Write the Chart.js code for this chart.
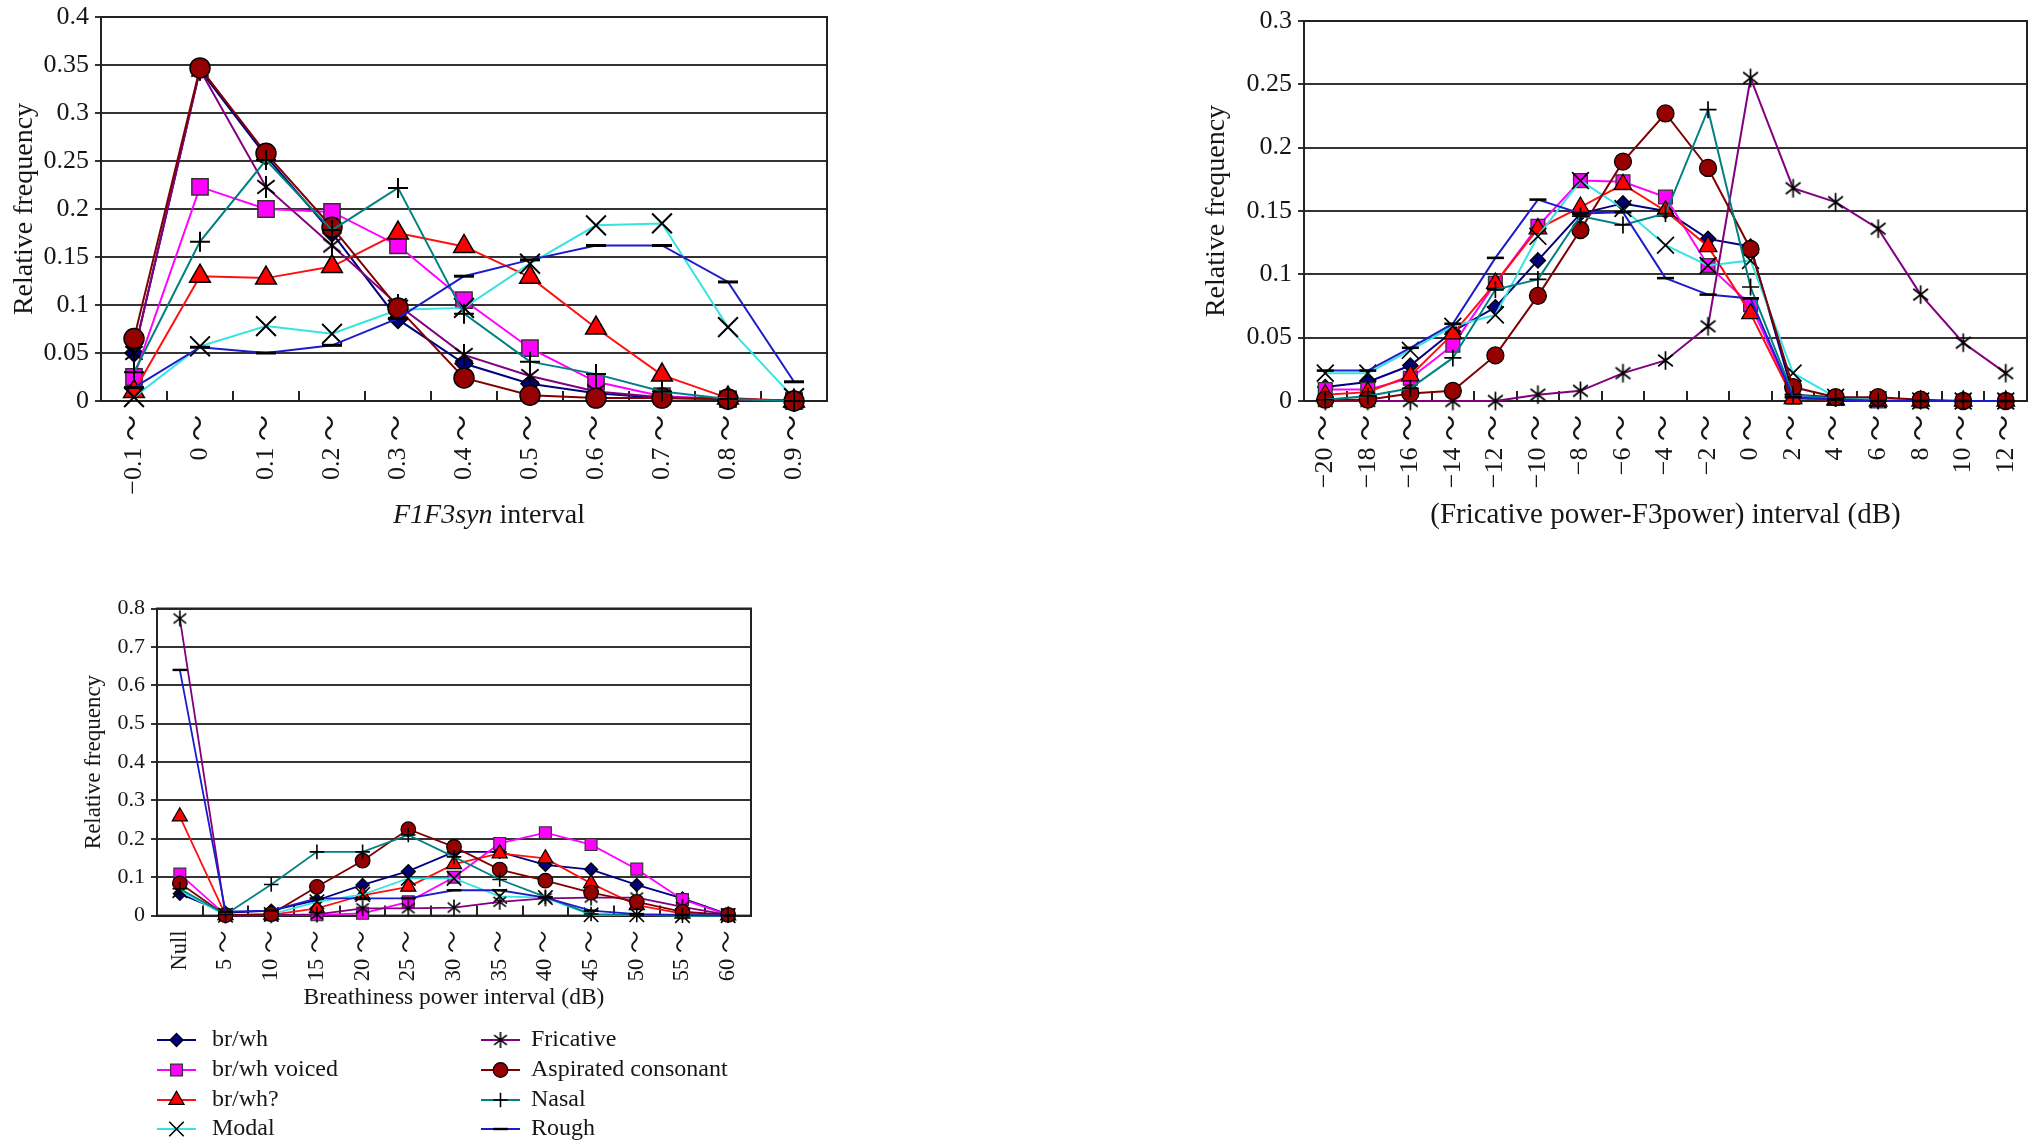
<!DOCTYPE html>
<html>
<head>
<meta charset="utf-8">
<title>Relative frequency by interval</title>
<script src="https://cdn.jsdelivr.net/npm/chart.js@4.4.1/dist/chart.umd.min.js"></script>
<style>
  html, body { margin: 0; background: #fff; }
  body { width: 2040px; height: 1148px; position: relative; overflow: hidden; }
  canvas { position: absolute; }
</style>
</head>
<body>
<canvas id="c-syn"></canvas>
<canvas id="c-fric"></canvas>
<canvas id="c-breath"></canvas>
<script>
// series names, shared by the three panels
const SERIES = ['br/wh', 'br/wh voiced', 'br/wh?', 'Modal', 'Fricative', 'Aspirated consonant', 'Nasal', 'Rough'];

// --- panel 1: F1F3syn interval
const SYN_LABELS = ['\u22120.1 \u301c', '0 \u301c', '0.1 \u301c', '0.2 \u301c', '0.3 \u301c', '0.4 \u301c', '0.5 \u301c',
                    '0.6 \u301c', '0.7 \u301c', '0.8 \u301c', '0.9 \u301c'];
const SYN_Y_TICKS = ['0', '0.05', '0.1', '0.15', '0.2', '0.25', '0.3', '0.35', '0.4'];
const SYN_BRWH    = [0.050, 0.345, 0.255, 0.175, 0.085, 0.039, 0.018, 0.008, 0.003, 0.002, 0];
const SYN_BRWH_V  = [0.025, 0.223, 0.200, 0.197, 0.162, 0.105, 0.055, 0.020, 0.005, 0.002, 0];
const SYN_BRWH_Q  = [0.010, 0.130, 0.128, 0.140, 0.175, 0.161, 0.129, 0.076, 0.027, 0.003, 0];
const SYN_MODAL   = [0.004, 0.057, 0.078, 0.070, 0.095, 0.097, 0.143, 0.183, 0.185, 0.077, 0.003];
const SYN_FRIC    = [0.050, 0.345, 0.223, 0.162, 0.100, 0.048, 0.026, 0.010, 0.004, 0.002, 0];
const SYN_ASP     = [0.065, 0.347, 0.258, 0.181, 0.097, 0.024, 0.006, 0.003, 0.003, 0.002, 0];
const SYN_NASAL   = [0.030, 0.166, 0.251, 0.178, 0.222, 0.091, 0.041, 0.028, 0.010, 0.002, 0];
const SYN_ROUGH   = [0.014, 0.056, 0.050, 0.058, 0.086, 0.130, 0.147, 0.162, 0.162, 0.124, 0.020];

// --- panel 2: (Fricative power - F3power) interval (dB)
const FP_LABELS = ['\u221220 \u301c', '\u221218 \u301c', '\u221216 \u301c', '\u221214 \u301c', '\u221212 \u301c', '\u221210 \u301c',
                   '\u22128 \u301c', '\u22126 \u301c', '\u22124 \u301c', '\u22122 \u301c', '0 \u301c', '2 \u301c', '4 \u301c',
                   '6 \u301c', '8 \u301c', '10 \u301c', '12 \u301c'];
const FP_Y_TICKS = ['0', '0.05', '0.1', '0.15', '0.2', '0.25', '0.3'];
const FP_BRWH    = [0.011, 0.015, 0.028, 0.055, 0.074, 0.111, 0.148, 0.156, 0.150, 0.128, 0.122, 0.005, 0.003, 0.001, 0, 0, 0];
const FP_BRWH_V  = [0.009, 0.009, 0.018, 0.044, 0.093, 0.138, 0.174, 0.173, 0.161, 0.107, 0.076, 0.003, 0.002, 0, 0, 0, 0];
const FP_BRWH_Q  = [0.005, 0.007, 0.020, 0.053, 0.093, 0.136, 0.153, 0.171, 0.150, 0.122, 0.069, 0.002, 0.001, 0, 0, 0, 0];
const FP_MODAL   = [0.022, 0.022, 0.040, 0.059, 0.068, 0.130, 0.174, 0.152, 0.123, 0.107, 0.111, 0.022, 0.003, 0.001, 0, 0, 0];
const FP_FRIC    = [0, 0, 0, 0, 0, 0.005, 0.008, 0.022, 0.032, 0.059, 0.255, 0.168, 0.157, 0.136, 0.084, 0.046, 0.022];
const FP_ASP     = [0.001, 0.001, 0.006, 0.008, 0.036, 0.083, 0.135, 0.189, 0.227, 0.184, 0.120, 0.011, 0.003, 0.003, 0.001, 0, 0];
const FP_NASAL   = [0.001, 0.004, 0.010, 0.034, 0.088, 0.096, 0.146, 0.139, 0.148, 0.230, 0.090, 0.005, 0.002, 0, 0, 0, 0];
const FP_ROUGH   = [0.024, 0.024, 0.042, 0.061, 0.113, 0.159, 0.148, 0.149, 0.097, 0.084, 0.081, 0.003, 0.001, 0, 0, 0, 0];

// --- panel 3: Breathiness power interval (dB)
const BP_LABELS = ['Null', '5 \u301c', '10 \u301c', '15 \u301c', '20 \u301c', '25 \u301c', '30 \u301c', '35 \u301c', '40 \u301c',
                   '45 \u301c', '50 \u301c', '55 \u301c', '60 \u301c'];
const BP_Y_TICKS = ['0', '0.1', '0.2', '0.3', '0.4', '0.5', '0.6', '0.7', '0.8'];
const BP_BRWH    = [0.057, 0.007, 0.013, 0.040, 0.080, 0.116, 0.166, 0.166, 0.132, 0.120, 0.080, 0.045, 0.003];
const BP_BRWH_V  = [0.108, 0.002, 0.002, 0.002, 0.006, 0.036, 0.100, 0.188, 0.216, 0.185, 0.121, 0.042, 0.002];
const BP_BRWH_Q  = [0.258, 0.001, 0.002, 0.019, 0.053, 0.075, 0.134, 0.162, 0.149, 0.084, 0.027, 0.005, 0];
const BP_MODAL   = [0.065, 0.001, 0.003, 0.036, 0.055, 0.097, 0.097, 0.050, 0.047, 0.002, 0.002, 0, 0];
const BP_FRIC    = [0.774, 0, 0.001, 0.003, 0.019, 0.019, 0.021, 0.036, 0.045, 0.047, 0.047, 0.023, 0.002];
const BP_ASP     = [0.084, 0.001, 0.004, 0.075, 0.143, 0.225, 0.179, 0.120, 0.091, 0.060, 0.036, 0.010, 0.002];
const BP_NASAL   = [0.070, 0.003, 0.081, 0.166, 0.166, 0.210, 0.153, 0.094, 0.049, 0.004, 0.002, 0, 0];
const BP_ROUGH   = [0.640, 0.010, 0.013, 0.045, 0.045, 0.045, 0.066, 0.066, 0.047, 0.013, 0.004, 0.002, 0];

const FONT = "'Liberation Serif', 'Times New Roman', 'Noto Sans CJK JP', serif";
const INK = '#161616';

// marker look per series (sizes are for the first panel, scaled by k)
const STYLES = [
  { line: '#000080', fill: '#00007a', edge: '#000', shape: 'rectRot',  r: 9,    bw: 1.5 },
  { line: '#ff00ff', fill: '#ff00ff', edge: '#333', shape: 'rect',     r: 11.5, bw: 1.5 },
  { line: '#ff1010', fill: '#ff0000', edge: '#000', shape: 'triangle', r: 12,   bw: 1.5 },
  { line: '#35e3e3', fill: 'rgba(0,0,0,0)', edge: '#000', shape: 'crossRot', r: 14, bw: 2 },
  { line: '#800080', fill: 'rgba(0,0,0,0)', edge: '#000', shape: 'asterisk', r: 11, bw: 2 },
  { line: '#800000', fill: '#950000', edge: '#000', shape: 'circle',   r: 10,   bw: 1.5 },
  { line: '#008080', fill: 'rgba(0,0,0,0)', edge: '#000', shape: 'cross', r: 10, bw: 2 },
  { line: '#1c1ccc', fill: 'rgba(0,0,0,0)', edge: '#000', shape: 'line',  r: 10, bw: 3 },
];

// six-armed asterisk used by "Fricative"
function asterisk(r, lw) {
  const c = document.createElement('canvas');
  const s = Math.ceil(2 * r + lw + 2);
  c.width = c.height = s;
  const g = c.getContext('2d');
  const m = s / 2;
  g.strokeStyle = '#000';
  g.lineWidth = lw;
  g.beginPath();
  [90, 38, 142].forEach(a => {
    const dx = Math.cos(a * Math.PI / 180) * r, dy = Math.sin(a * Math.PI / 180) * r;
    g.moveTo(m - dx, m - dy);
    g.lineTo(m + dx, m + dy);
  });
  g.stroke();
  return c;
}

function makeDatasets(series, k, lineW) {
  return series.map((data, i) => {
    const st = STYLES[i];
    const shape = st.shape === 'asterisk' ? asterisk(st.r * k, st.bw * Math.max(k, 0.8)) : st.shape;
    return {
      label: SERIES[i],
      data,
      order: series.length - i,          // later series drawn on top, like the original
      borderColor: st.line,
      borderWidth: lineW,
      pointStyle: shape,
      pointRadius: st.r * k,
      pointBackgroundColor: st.fill,
      pointBorderColor: st.edge,
      pointBorderWidth: st.bw * Math.max(k, 0.8),
      tension: 0,
      fill: false,
      clip: false,
    };
  });
}

// black frame around the plot area
const framePlugin = {
  id: 'frame',
  beforeDatasetsDraw(chart) {
    const { ctx, chartArea: a } = chart;
    ctx.save();
    ctx.strokeStyle = '#222';
    ctx.lineWidth = 2;
    ctx.strokeRect(a.left, a.top, a.right - a.left, a.bottom - a.top);
    ctx.restore();
  },
};

// x title with an italic part (panel 1)
const mixedTitle = {
  id: 'mixedTitle',
  afterDraw(chart, args, o) {
    if (!o || !o.parts) return;
    const ctx = chart.ctx;
    ctx.save();
    const fonts = o.parts.map(p => (p.italic ? 'italic ' : '') + o.size + 'px ' + FONT);
    const widths = o.parts.map((p, i) => { ctx.font = fonts[i]; return ctx.measureText(p.text).width; });
    let x = o.cx - widths.reduce((a, b) => a + b, 0) / 2;
    ctx.fillStyle = INK;
    ctx.textBaseline = 'middle';
    ctx.textAlign = 'left';
    o.parts.forEach((p, i) => { ctx.font = fonts[i]; ctx.fillText(p.text, x, o.y); x += widths[i]; });
    ctx.restore();
  },
};

function drawMarker(ctx, ds, x, y) {
  const h = Chart.helpers;
  if (h && h.drawPoint) {
    h.drawPoint(ctx, { pointStyle: ds.pointStyle, radius: ds.pointRadius, rotation: 0, borderWidth: ds.pointBorderWidth }, x, y);
  } else {
    ctx.beginPath();
    ctx.arc(x, y, ds.pointRadius, 0, Math.PI * 2);
    ctx.fill();
    ctx.stroke();
  }
}

// two-column legend under panel 3 (four rows each)
const twoColLegend = {
  id: 'twoColLegend',
  afterDraw(chart, args, o) {
    if (!o || !o.rows) return;
    const ctx = chart.ctx;
    chart.data.datasets.forEach((ds, i) => {
      const col = o.cols[Math.floor(i / 4)];
      const y = o.rows[i % 4] - o.oy;
      const x0 = col[0] - o.ox, x1 = col[1] - o.ox, tx = col[2] - o.ox;
      ctx.save();
      ctx.strokeStyle = ds.borderColor;
      ctx.lineWidth = ds.borderWidth;
      ctx.beginPath();
      ctx.moveTo(x0, y);
      ctx.lineTo(x1, y);
      ctx.stroke();
      ctx.fillStyle = ds.pointBackgroundColor;
      ctx.strokeStyle = ds.pointBorderColor;
      ctx.lineWidth = ds.pointBorderWidth;
      drawMarker(ctx, ds, (x0 + x1) / 2, y);
      ctx.fillStyle = INK;
      ctx.font = o.size + 'px ' + FONT;
      ctx.textBaseline = 'middle';
      ctx.textAlign = 'left';
      ctx.fillText(ds.label, tx, y);
      ctx.restore();
    });
  },
};

function buildChart(cfg) {
  const cv = document.getElementById(cfg.id);
  const [cx, cy, cw, ch] = cfg.box;
  const [pl, pt, pr, pb] = cfg.plot;
  cv.width = cw;
  cv.height = ch;
  cv.style.left = cx + 'px';
  cv.style.top = cy + 'px';
  const titleLH = cfg.titleSize * 1.2;
  const padBottom = cfg.padBottom || 0;

  return new Chart(cv, {
    type: 'line',
    data: { labels: cfg.labels, datasets: makeDatasets(cfg.series, cfg.k, cfg.lineW) },
    options: {
      responsive: false,
      animation: false,
      devicePixelRatio: 1,
      events: [],
      layout: { autoPadding: false, padding: { left: 0, top: pt - cy, right: cx + cw - pr, bottom: padBottom } },
      plugins: {
        legend: { display: false },
        tooltip: { enabled: false },
        mixedTitle: cfg.mixedTitle || {},
        twoColLegend: cfg.legend || {},
      },
      scales: {
        x: {
          offset: true,
          grid: { offset: true, drawOnChartArea: false, tickLength: -10, color: '#222', lineWidth: 2 },
          border: { display: true, color: '#222', width: 2 },
          ticks: {
            autoSkip: false, minRotation: 90, maxRotation: 90, padding: cfg.xPad, color: INK,
            font: { family: FONT, size: cfg.xTickSize || cfg.tickSize },
          },
          title: {
            display: !!cfg.xTitle,
            text: cfg.xTitle || '',
            color: INK,
            font: { family: FONT, size: cfg.xTitleSize || cfg.titleSize, lineHeight: 1.2 },
            padding: { top: 0, bottom: cy + ch - padBottom - cfg.xTitleY - (cfg.xTitleSize || cfg.titleSize) * 0.6 },
          },
          afterFit: s => { s.height = cy + ch - padBottom - pb; s.paddingLeft = 0; s.paddingRight = 0; },
        },
        y: {
          min: 0,
          max: cfg.yMax,
          ticks: {
            stepSize: cfg.yStep, padding: 6, color: INK,
            font: { family: FONT, size: cfg.tickSize },
            callback: (v, i) => cfg.yTicks[i],
          },
          grid: { color: '#333', lineWidth: 2, tickLength: 6 },
          border: { display: true, color: '#222', width: 2 },
          title: {
            display: true,
            text: 'Relative frequency',
            color: INK,
            font: { family: FONT, size: cfg.titleSize, lineHeight: 1.2 },
            padding: { top: cfg.yTitleX - cx - titleLH / 2, bottom: 0 },
          },
          afterFit: s => { s.width = pl - cx; s.paddingTop = 0; s.paddingBottom = 0; },
        },
      },
    },
    plugins: [framePlugin, mixedTitle, twoColLegend],
  });
}

buildChart({
  id: 'c-syn',
  box: [0, 0, 860, 560],
  plot: [101, 17, 827, 401],
  labels: SYN_LABELS,
  series: [SYN_BRWH, SYN_BRWH_V, SYN_BRWH_Q, SYN_MODAL, SYN_FRIC, SYN_ASP, SYN_NASAL, SYN_ROUGH],
  yMax: 0.4, yStep: 0.05, yTicks: SYN_Y_TICKS,
  tickSize: 26, titleSize: 28, xPad: 24, k: 1, lineW: 2,
  yTitleX: 25,
  mixedTitle: { parts: [{ text: 'F1F3syn', italic: true }, { text: ' interval', italic: false }], size: 28, cx: 489, y: 516 },
});

buildChart({
  id: 'c-fric',
  box: [1190, 0, 850, 540],
  plot: [1304, 21, 2027, 401],
  labels: FP_LABELS,
  series: [FP_BRWH, FP_BRWH_V, FP_BRWH_Q, FP_MODAL, FP_FRIC, FP_ASP, FP_NASAL, FP_ROUGH],
  yMax: 0.3, yStep: 0.05, yTicks: FP_Y_TICKS,
  tickSize: 26, titleSize: 28, xTitleSize: 29, xPad: 24, k: 0.85, lineW: 2,
  yTitleX: 1217,
  xTitle: '(Fricative power-F3power) interval (dB)', xTitleY: 515,
});

buildChart({
  id: 'c-breath',
  box: [0, 580, 780, 568],
  plot: [157, 608.5, 751, 915.6],
  padBottom: 100,
  labels: BP_LABELS,
  series: [BP_BRWH, BP_BRWH_V, BP_BRWH_Q, BP_MODAL, BP_FRIC, BP_ASP, BP_NASAL, BP_ROUGH],
  yMax: 0.8, yStep: 0.1, yTicks: BP_Y_TICKS,
  tickSize: 22, xTickSize: 22.5, titleSize: 23, xTitleSize: 23.5, xPad: 25, k: 0.73, lineW: 1.8,
  yTitleX: 94,
  xTitle: 'Breathiness power interval (dB)', xTitleY: 998,
  legend: {
    ox: 0, oy: 580, size: 24,
    rows: [1040, 1070, 1100, 1129],
    cols: [[157, 196, 212], [481, 520, 531]],
  },
});
</script>
</body>
</html>
